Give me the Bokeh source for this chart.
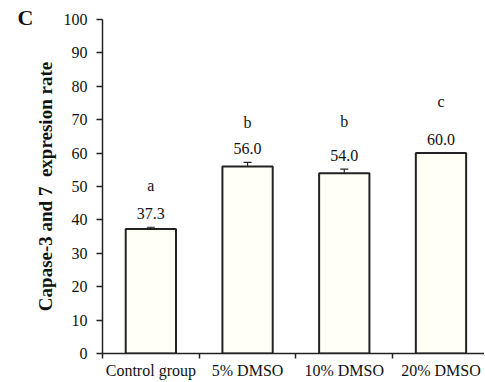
from bokeh.plotting import figure
from bokeh.models import (ColumnDataSource, Range1d, FixedTicker, Whisker, LabelSet, Label, Title)
from bokeh.embed import file_html
from bokeh.resources import INLINE

categories = ["Control group", "5% DMSO", "10% DMSO", "20% DMSO"]
values = [37.3, 56.0, 54.0, 60.0]
errors = [0.5, 1.2, 1.2, 0.0]
letters = ["a", "b", "b", "c"]
y_ticks = [0, 10, 20, 30, 40, 50, 60, 70, 80, 90, 100]

SERIF = "Liberation Serif"
INK = "#111111"

xs = [i + 0.5 for i in range(len(categories))]
tops = [v + e for v, e in zip(values, errors)]
src = ColumnDataSource(dict(
    x=xs, top=values,
    upper=tops,
    lower=[v - e for v, e in zip(values, errors)],
    lab=[f"{v:.1f}" for v in values],
    letter=letters,
    ytxt=tops,
))

W, H = 484, 381
p = figure(width=W, height=H, output_backend="svg", toolbar_location=None,
           x_range=Range1d(0, 3.95), y_range=Range1d(0, 100),
           min_border_left=102, min_border_right=0, min_border_top=19, min_border_bottom=28)
p.grid.visible = False
p.outline_line_color = None

p.add_layout(Title(text="C", align="left", offset=-85, standoff=-20,
                   text_font=SERIF, text_font_style="bold", text_font_size="22px",
                   text_color=INK), "above")

p.vbar(x="x", top="top", width=0.52, bottom=0, source=src,
       fill_color="#FFFFF5", line_color="#222222", line_width=2)

w = Whisker(base="x", upper="upper", lower="lower", source=src,
            line_color="#222222", line_width=1.2)
for head in (w.upper_head, w.lower_head):
    head.size = 8
    head.line_color = "#222222"
    head.line_width = 1.2
p.add_layout(w)

vals = LabelSet(x="x", y="ytxt", text="lab", source=src, y_offset=8,
                text_align="center", text_baseline="bottom",
                text_font=SERIF, text_font_size="16px", text_color=INK)
p.add_layout(vals)

letter_offsets = [33, 31, 39, 43]
for xv, yv, lt, off in zip(xs, tops, letters, letter_offsets):
    p.add_layout(Label(x=xv, y=yv, text=lt, y_offset=off, text_align="center",
                       text_baseline="bottom", text_font=SERIF, text_font_size="16px",
                       text_color=INK))

# y axis
p.yaxis.ticker = FixedTicker(ticks=y_ticks)
p.yaxis.axis_line_color = "#222222"
p.yaxis.axis_line_width = 1.5
p.yaxis.major_tick_line_color = "#222222"
p.yaxis.major_tick_line_width = 1.5
p.yaxis.major_tick_out = 6
p.yaxis.major_tick_in = 0
p.yaxis.minor_tick_line_color = None
p.yaxis.major_label_standoff = 9
p.yaxis.major_label_text_font = SERIF
p.yaxis.major_label_text_font_size = "16px"
p.yaxis.major_label_text_color = INK
p.yaxis.axis_label = "Capase-3 and 7\u00a0 expresion rate"
p.yaxis.axis_label_text_font = SERIF
p.yaxis.axis_label_text_font_style = "bold"
p.yaxis.axis_label_text_font_size = "19px"
p.yaxis.axis_label_text_color = INK
p.yaxis.axis_label_standoff = 5

# x axis: labels at centres, ticks at category boundaries
p.xaxis.ticker = FixedTicker(ticks=xs, minor_ticks=list(range(len(categories) + 1)))
p.xaxis.major_label_overrides = {x: c for x, c in zip(xs, categories)}
p.xaxis.axis_line_color = "#222222"
p.xaxis.axis_line_width = 1.5
p.xaxis.major_tick_line_color = None
p.xaxis.major_tick_out = 0
p.xaxis.major_tick_in = 0
p.xaxis.minor_tick_line_color = "#222222"
p.xaxis.minor_tick_line_width = 1.5
p.xaxis.minor_tick_out = 5
p.xaxis.minor_tick_in = 0
p.xaxis.major_label_standoff = 3
p.xaxis.major_label_text_font = SERIF
p.xaxis.major_label_text_font_size = "16px"
p.xaxis.major_label_text_color = INK

open("out.html", "w").write(file_html(p, INLINE))
